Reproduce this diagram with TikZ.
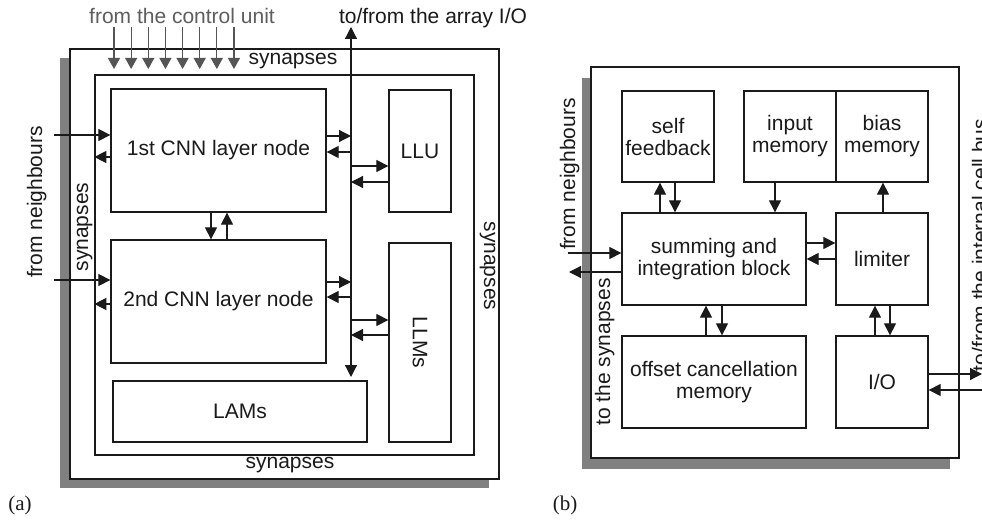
\documentclass[tikz,border=0pt]{standalone}
\usepackage{fontspec}
\setmainfont{Liberation Sans}
\newfontfamily\serifcap{Liberation Serif}
\usetikzlibrary{arrows.meta}
\definecolor{shadowgray}{HTML}{808080}
\definecolor{ctrlgray}{HTML}{555555}
\definecolor{ctrltext}{HTML}{5E5E5E}
\definecolor{ink}{HTML}{1A1A1A}
\tikzset{
  lbl/.style={font=\fontsize{21}{22}\selectfont, inner sep=0pt, align=center, text=ink},
  blk/.style={draw=ink, line width=1.3pt, inner sep=0pt, align=center,
              font=\fontsize{21}{22}\selectfont, text=ink},
  frame/.style={draw=ink, line width=1.3pt, inner sep=0pt, fill=white},
  shade/.style={fill=shadowgray, draw=none, inner sep=0pt},
  arr/.style={draw=ink, line width=1.2pt, -{Triangle[length=12pt,width=12pt]}},
  darr/.style={draw=ink, line width=1.2pt, {Triangle[length=12pt,width=12pt]}-{Triangle[length=12pt,width=12pt]}},
  carr/.style={draw=ctrlgray, line width=1.1pt, -{Triangle[length=11pt,width=12pt]}},
}
\begin{document}
\begin{tikzpicture}[x=1pt,y=-1pt]
\useasboundingbox[fill=white] (0,0) rectangle (982,521);

% ---------------- panel (a) ----------------
\node[shade, minimum width=429pt, minimum height=430pt] (shA) at (274.5,273) {};
\node[frame, minimum width=429pt, minimum height=430pt] (outA) at (284.5,264) {};
\node[frame, minimum width=379pt, minimum height=380pt] (inA) at (284.5,265) {};
\node[blk, minimum width=215pt, minimum height=123pt] (cnn1) at (218.5,150.5) {1st CNN layer node};
\node[blk, minimum width=215pt, minimum height=123pt] (cnn2) at (218.5,301.5) {2nd CNN layer node};
\node[blk, minimum width=254pt, minimum height=61pt] (lams) at (240,411.5) {LAMs};
\node[blk, minimum width=62pt, minimum height=122pt] (llu) at (420,151) {LLU};
\node[blk, minimum width=62pt, minimum height=199pt] (llms) at (420,342.5) {};
\node[lbl, rotate=-90] (llmst) at (llms.center) {LLMs};

% labels (a)
\node[lbl, text=ctrltext] (ctrl) at (182,16) {from the control unit};
\node[lbl] (arrio) at (433,18) {to/from the array I/O};
\node[lbl] (synT) at (293,61) {synapses};
\node[lbl] (synB) at (290,465) {synapses};
\node[lbl, rotate=90, anchor=base] (synL) at (88,227) {synapses};
\node[lbl, rotate=-90, anchor=base] (synR) at (484,266) {synapses};
\node[lbl, rotate=90, anchor=base] (nbA) at (42,202) {from neighbours};
\node[lbl, font=\serifcap\fontsize{21}{22}\selectfont] (capA) at (20,505) {(a)};

% control unit arrows
\foreach \i in {0,...,7}{
  \coordinate (cs\i) at ({114+17.14*\i},27);
  \coordinate (ce\i) at ({114+17.14*\i},69);
  \draw[carr] (cs\i) -- (ce\i);
}

% bus
\coordinate (busT) at (351,27);
\coordinate (busB) at (351,377);
\draw[darr] (busB) -- (busT);

% neighbour arrows (a)
\coordinate (nA1) at (54,135);
\coordinate (nA2) at (54,280);
\draw[arr] (nA1) -- (cnn1.west |- nA1);
\draw[arr] (nA2) -- (cnn2.west |- nA2);
\draw[arr] (cnn1.west |- 0,157) -- (inA.west |- 0,157);
\draw[arr] (cnn2.west |- 0,304) -- (inA.west |- 0,304);

% between CNN layers
\draw[arr] (211,0 |- cnn1.south) -- (211,0 |- cnn2.north);
\draw[arr] (227,0 |- cnn2.north) -- (227,0 |- cnn1.south);

% to/from bus
\draw[arr] (cnn1.east |- 0,136) -- (busT |- 0,136);
\draw[arr] (busT |- 0,152) -- (cnn1.east |- 0,152);
\draw[arr] (busT |- 0,166) -- (llu.west |- 0,166);
\draw[arr] (llu.west |- 0,182) -- (busT |- 0,182);
\draw[arr] (cnn2.east |- 0,282) -- (busT |- 0,282);
\draw[arr] (busT |- 0,297) -- (cnn2.east |- 0,297);
\draw[arr] (busT |- 0,320) -- (llms.west |- 0,320);
\draw[arr] (llms.west |- 0,335) -- (busT |- 0,335);

% ---------------- panel (b) ----------------
\node[shade, minimum width=368pt, minimum height=391pt] (shB) at (766,273.5) {};
\node[frame, minimum width=368pt, minimum height=391pt] (outB) at (775,262.5) {};
\node[blk, minimum width=92pt, minimum height=91pt] (self) at (668,136.5) {self\\feedback};
\node[blk, minimum width=92pt, minimum height=91pt] (inmem) at (790,136.5) {input\\memory};
\node[blk, minimum width=92pt, minimum height=91pt] (bias) at (882,136.5) {bias\\memory};
\node[blk, minimum width=184pt, minimum height=92pt] (sum) at (714,259) {summing and\\integration block};
\node[blk, minimum width=92pt, minimum height=92pt] (lim) at (882,259) {limiter};
\node[blk, minimum width=184pt, minimum height=92pt] (off) at (714,382) {offset cancellation\\memory};
\node[blk, minimum width=92pt, minimum height=92pt] (io) at (882,382) {I/O};

% labels (b)
\node[lbl, rotate=90, anchor=base] (nbB) at (575,174) {from neighbours};
\node[lbl, rotate=90, anchor=base] (tsyn) at (610,352) {to the synapses};
\node[lbl, rotate=90, anchor=base] (cbus) at (987,245) {to/from the internal cell bus};
\node[lbl, font=\serifcap\fontsize{21}{22}\selectfont] (capB) at (565,505) {(b)};

% arrows (b)
\coordinate (nB1) at (568,253);
\coordinate (nB2) at (569,272);
\draw[arr] (nB1) -- (sum.west |- nB1);
\draw[arr] (sum.west |- nB2) -- (nB2);
\draw[arr] (660,0 |- sum.north) -- (660,0 |- self.south);
\draw[arr] (675,0 |- self.south) -- (675,0 |- sum.north);
\draw[arr] (775,0 |- inmem.south) -- (775,0 |- sum.north);
\draw[arr] (883,0 |- lim.north) -- (883,0 |- bias.south);
\draw[arr] (sum.east |- 0,243) -- (lim.west |- 0,243);
\draw[arr] (lim.west |- 0,259) -- (sum.east |- 0,259);
\draw[arr] (706,0 |- off.north) -- (706,0 |- sum.south);
\draw[arr] (722,0 |- sum.south) -- (722,0 |- off.north);
\draw[arr] (875,0 |- io.north) -- (875,0 |- lim.south);
\draw[arr] (890,0 |- lim.south) -- (890,0 |- io.north);
\coordinate (ioR1) at (982,374);
\coordinate (ioR2) at (982,390);
\draw[arr] (io.east |- ioR1) -- (ioR1);
\draw[arr] (ioR2) -- (io.east |- ioR2);
\end{tikzpicture}
\end{document}
